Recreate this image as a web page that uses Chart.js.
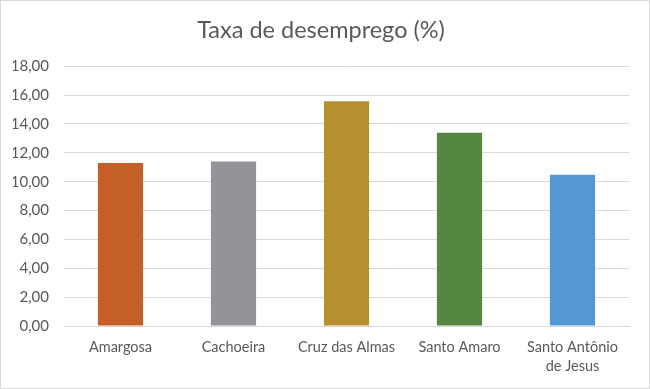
<!DOCTYPE html>
<html>
<head>
<meta charset="utf-8">
<script src="https://cdn.jsdelivr.net/npm/chart.js@4/dist/chart.umd.min.js"></script>
<style>
  html, body { margin: 0; padding: 0; background: #fff; }
  #wrap { position: relative; width: 648px; height: 387px; border: 1px solid #d9d9d9; }
</style>
</head>
<body>
<div id="wrap"><canvas id="chart"></canvas></div>
<script>
const cities = ['Amargosa', 'Cachoeira', 'Cruz das Almas', 'Santo Amaro', ['Santo Antônio', 'de Jesus']];
const unemployment = [11.29, 11.40, 15.57, 13.39, 10.48];
const barColors = ['#C55F28', '#939497', '#B88F2F', '#538742', '#5397D3'];

const ctx = document.getElementById('chart').getContext('2d');

new Chart(ctx, {
    type: 'bar',
    data: {
        labels: cities,
        datasets: [{
            label: 'Taxa de desemprego (%)',
            data: unemployment,
            backgroundColor: barColors,
            borderWidth: 0,
            barPercentage: 1,
            categoryPercentage: 0.4
        }]
    },
    options: {
        responsive: true,
        maintainAspectRatio: false,
        animation: false,
        layout: {
            padding: { left: 12, right: 20, top: 0, bottom: 11 }
        },
        plugins: {
            legend: { display: false },
            tooltip: { enabled: false },
            title: {
                display: true,
                text: 'Taxa de desemprego (%)',
                color: '#595959',
                font: { family: 'Lato', size: 23.5, weight: 'normal' },
                padding: { top: 15, bottom: 22 }
            }
        },
        scales: {
            x: {
                grid: { display: false, drawTicks: false },
                border: { color: '#d9d9d9', width: 1 },
                ticks: {
                    color: '#595959',
                    font: { family: 'Lato', size: 14.5, lineHeight: 1.3 },
                    maxRotation: 0,
                    autoSkip: false,
                    padding: 12
                },
                afterFit: scale => { scale.height = 51; }
            },
            y: {
                min: 0,
                max: 18,
                grid: { color: '#d9d9d9', lineWidth: 1, drawTicks: false },
                border: { display: false },
                ticks: {
                    stepSize: 2,
                    color: '#595959',
                    font: { family: 'Lato', size: 15 },
                    padding: 15,
                    callback: v => v.toFixed(2).replace('.', ',')
                },
                afterFit: scale => { scale.width = 51; }
            }
        }
    }
});
</script>
</body>
</html>
